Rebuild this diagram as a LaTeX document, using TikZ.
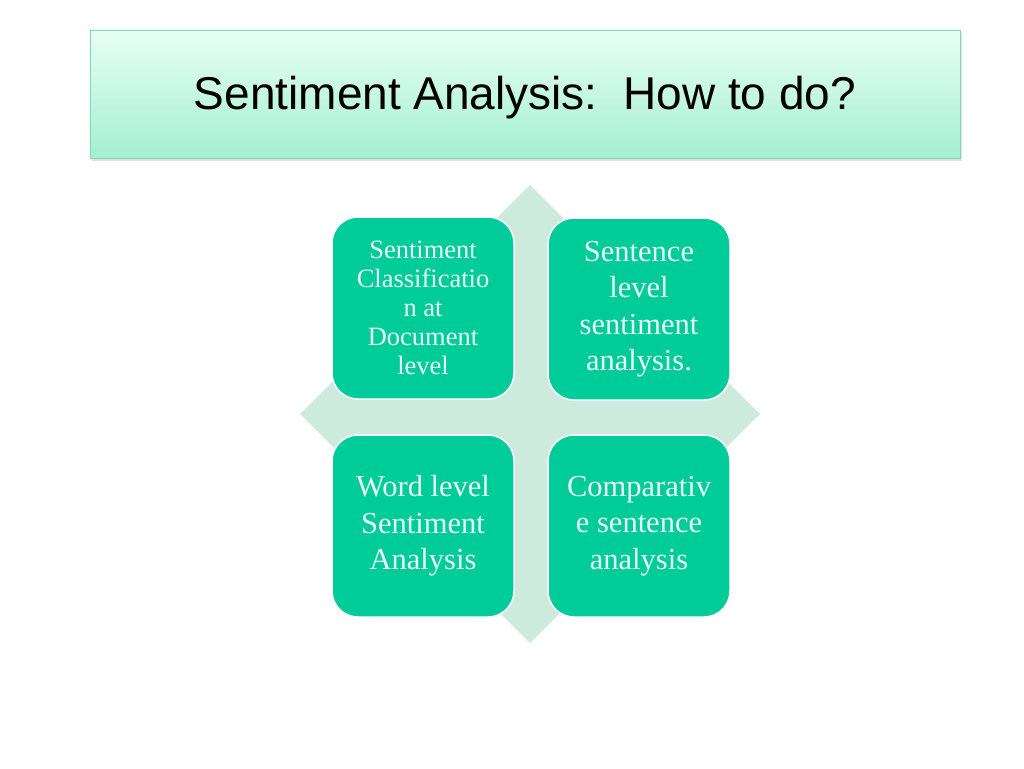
\documentclass[tikz,border=0pt]{standalone}
\usepackage{fontspec}
\setmainfont{Liberation Serif}
\newfontfamily\titlefont{Liberation Sans}
\begin{document}
\begin{tikzpicture}[x=1pt,y=-1pt,
  box/.style={draw=white,line width=1.5pt,fill=boxg,rounded corners=26pt,minimum width=182pt,minimum height=182pt,align=center,text=white!92!boxg,inner sep=0pt},
  big/.style={font=\fontsize{30.5}{36.5}\selectfont},
  small/.style={font=\fontsize{26.5}{29}\selectfont}]
\definecolor{boxg}{HTML}{00CC99}
\definecolor{diag}{HTML}{CDEBDD}
\definecolor{ttop}{HTML}{E8FFF4}
\definecolor{tbot}{HTML}{A4EFD2}
\definecolor{tbord}{HTML}{7FD9B5}
\useasboundingbox (0,0) rectangle (1024,768);
\fill[white] (0,0) rectangle (1024,768);
\fill[black!12] (92,33) rectangle (962,161);
\node[draw=tbord,line width=0.8pt,top color=ttop,bottom color=tbot,minimum width=870pt,minimum height=128pt,inner sep=0pt] (title) at (525,94) {};
\node[font=\titlefont\fontsize{46}{52}\selectfont] (tt) at (525,98) {Sentiment Analysis:\ \ How to do?};
\fill[diag] (530,185) -- (760,414) -- (530,643) -- (300,414) -- cycle;
\node[box,small] (a) at (423,308) {Sentiment\\Classificatio\\n at\\Document\\level};
\node[box,big] (b) at (639,309) {Sentence\\level\\sentiment\\analysis.};
\node[box,big] (c) at (423,526) {Word level\\Sentiment\\Analysis};
\node[box,big] (d) at (639,526) {Comparativ\\e sentence\\analysis};
\end{tikzpicture}
\end{document}
